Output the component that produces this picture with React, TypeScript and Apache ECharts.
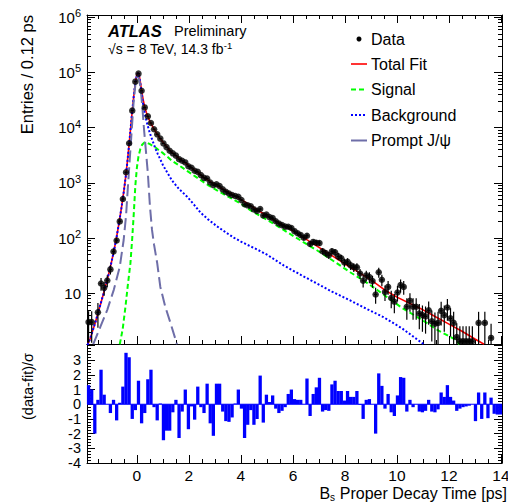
import React, { useEffect, useRef } from 'react';
import * as echarts from 'echarts';

const FONT = 'Liberation Sans, Arial, Helvetica, sans-serif';

// binning of the histogram
const BIN_START = -1.92;
const BIN_WIDTH = 0.12;
const X_MIN = -1.92;
const X_MAX = 14.04;
// top panel axis is drawn on log10(entries)
const LOG_MIN = 0.08;
const LOG_MAX = 6.04;
const RES_MIN = -4;
const RES_MAX = 4.1;

// entries per 0.12 ps bin (null = empty bin)
const dataCounts: (number | null)[] = [
  3, 3, null, 4.5, 15, 12.5, 17, 27, 57, 90,
  200, 510, 1550, 5200, 20300, 68000, 95000, 46500, 23200, 16000,
  12100, 9360, 7560, 6310, 5170, 4430, 3800, 3420, 3105, 2680,
  2505, 2340, 2000, 1870, 1650, 1577, 1378, 1230, 1195, 1015,
  910, 943, 873, 760, 690, 640, 600, 576, 557, 487,
  408, 391, 377, 330, 309, 335, 257, 265, 239, 229,
  201, 183, 171, 161, 160, 152, 133, 122, 113, 101,
  110, 78, 85, 82, 81, 57.5, 53.5, 48.8, 57.5, 55,
  46.5, 43, 36, 37, 32, 29.6, 29.6, 22.8, 16.8, 21,
  19.6, 16.6, 9.5, 24, 17.5, 10.5, 13, 8.2, 7, 10.3,
  14, 13, 5.7, 7.3, 5.7, 5.7, 4.3, 4, 3.8, 4.9,
  3.1, 2.8, 2.9, 4.8, 4.0, 5.5, 3.5, 2.9, 1.6, 1.35,
  1.35, 1.35, 1.35, 1.35, null, 2.9, null, 2.9, null, 1.55,
  null, null, null,
];

// (data-fit)/sigma per bin
const residuals: number[] = [
  1.3, 1.0, -2.0, 0.3, 2.35, 0.65, 0.0, -0.6, 0.3, -1.1,
  0.1, 1.2, 3.5, 3.2, -1.0, -0.4, 1.6, -1.3, -0.6, 1.7,
  2.35, -0.2, -1.1, 0.05, -2.45, -1.8, -1.8, -0.55, 0.3, -2.3,
  -0.5, 1.0, -1.7, -0.15, -1.05, 1.2, -0.2, -0.6, 1.4, -1.3,
  -2.15, 1.4, 1.4, -0.5, -1.15, -1.2, -0.9, 0.05, 1.0, -0.3,
  -2.3, -1.4, -0.4, -1.4, -1.0, 1.95, -1.25, 0.65, 0.15, 0.6,
  -0.3, -0.6, -0.45, -0.2, 0.7, 1.0, 0.35, 0.3, 0.3, 0.0,
  1.75, -0.8, 0.7, 1.15, 1.8, -0.5, -0.4, -0.45, 1.35, 1.6,
  0.9, 0.9, 0.25, 0.9, 0.5, 0.5, 0.9, -0.05, -1.0, 0.3,
  0.35, 0.0, -2.0, 2.1, 1.25, -0.3, 0.7, -0.55, -0.8, 0.6,
  1.85, 1.8, -0.5, 0.3, -0.2, 0.0, -0.5, -0.55, -0.45, 0.3,
  -0.5, -0.55, -0.35, 0.8, 0.5, 1.3, 0.5, 0.25, -0.45, -0.3,
  -0.2, -0.15, -0.1, 0.0, -1.15, 0.8, -1.0, 0.8, -0.95, 0.45,
  -0.65, -0.7, -0.7,
];

const totalFitX = [-1.9, -1.8, -1.7, -1.6, -1.5, -1.4, -1.3, -1.2, -1.1, -1.0, -0.9, -0.8, -0.7, -0.6, -0.5, -0.42, -0.36, -0.3, -0.24, -0.18, -0.12, -0.06, 0.0, 0.04, 0.08, 0.13, 0.18, 0.24, 0.3, 0.36, 0.42, 0.5, 0.6, 0.7, 0.8, 0.9, 1.0, 1.1, 1.2, 1.3, 1.5, 1.75, 2.0, 2.3, 2.6, 2.9, 3.2, 3.6, 4.0, 4.5, 5.0, 5.5, 6.0, 6.5, 7.0, 7.5, 8.0, 8.5, 9.0, 9.5, 10.0, 10.5, 11.0, 11.5, 12.0, 12.5, 13.0, 13.35];
const totalFitY = [1.15, 1.5, 2.1, 2.95, 4.3, 6.3, 9.3, 14, 21, 33, 54, 93, 174, 340, 720, 1420, 2600, 5000, 10000, 20000, 38000, 66000, 92000, 100000, 92000, 68000, 47000, 32000, 23500, 19000, 15800, 12900, 10500, 8700, 7400, 6300, 5500, 4790, 4220, 3720, 3090, 2510, 2040, 1585, 1230, 1000, 822, 646, 501, 355, 251, 186, 135, 95.5, 67.6, 47.9, 33.9, 24.3, 17.4, 11.7, 8.5, 6.5, 5.0, 3.7, 2.75, 2.05, 1.48, 1.19];

const signalX = [-0.66, -0.55, -0.44, -0.35, -0.25, -0.18, -0.12, -0.06, 0.0, 0.06, 0.13, 0.2, 0.29, 0.4, 0.5, 0.6, 0.7, 0.8, 0.9, 1.0, 1.16, 1.35, 1.6, 1.93, 2.2, 2.44, 2.75, 3.08, 3.4, 3.72, 4.0, 4.36, 4.62, 5.0, 5.64, 6.3, 6.92, 7.5, 8.2, 8.8, 9.48, 10.2, 11.0, 11.6, 12.24, 12.4];
const signalY = [1.19, 2.2, 5.7, 14, 35, 100, 282, 900, 1900, 3000, 4100, 4900, 5400, 5300, 5000, 4700, 4400, 4050, 3750, 3450, 3000, 2500, 2100, 1650, 1350, 1130, 900, 730, 600, 495, 420, 320, 270, 215, 140, 90, 60, 40, 24, 16, 9.5, 5.4, 3.2, 2.1, 1.45, 1.19];

const backgroundX = [-1.9, -1.8, -1.7, -1.6, -1.5, -1.4, -1.3, -1.2, -1.1, -1.0, -0.9, -0.8, -0.7, -0.6, -0.5, -0.42, -0.36, -0.3, -0.24, -0.18, -0.12, -0.06, 0.0, 0.04, 0.08, 0.13, 0.18, 0.24, 0.3, 0.36, 0.42, 0.5, 0.6, 0.7, 0.8, 0.9, 1.0, 1.16, 1.35, 1.6, 1.93, 2.2, 2.44, 2.75, 3.08, 3.4, 3.72, 4.0, 4.36, 4.62, 5.0, 5.64, 6.3, 6.92, 7.5, 8.2, 8.8, 9.48, 10.2, 11.0, 11.1];
const backgroundY = [1.15, 1.5, 2.1, 2.95, 4.3, 6.3, 9.3, 14, 21, 33, 54, 93, 174, 340, 718, 1414, 2585, 4960, 9930, 19900, 37700, 65100, 90100, 97500, 88500, 64000, 42000, 26500, 18000, 13700, 10600, 7900, 5800, 4300, 3350, 2650, 2100, 1550, 1100, 790, 560, 400, 290, 215, 163, 128, 102, 86, 71, 62, 50, 32, 21.5, 15, 10.7, 7.4, 5.3, 3.7, 2.3, 1.22, 1.1];

const promptX = [-1.68, -1.4, -1.14, -0.89, -0.66, -0.51, -0.42, -0.35, -0.28, -0.2, -0.13, -0.06, 0.0, 0.04, 0.1, 0.16, 0.22, 0.28, 0.35, 0.42, 0.5, 0.58, 0.66, 0.78, 0.9, 1.09, 1.3, 1.54];
const promptY = [1.19, 2.5, 5, 11.5, 30, 92, 250, 800, 2500, 9000, 28000, 60000, 82000, 85000, 70000, 42000, 20000, 8500, 3600, 1500, 380, 140, 75, 35, 13, 5.7, 2.8, 1.19];

const xTickLabels = [0, 2, 4, 6, 8, 10, 12, 14];
const yExponentLabels = [1, 2, 3, 4, 5, 6];
const resTickLabelsEven = [-4, -2, 0, 2];
const resTickLabelsOdd = [-3, -1, 1, 3];

const legendItems = ['Data', 'Total Fit', 'Signal', 'Background', 'Prompt J/ψ'];

const binCenter = (i: number) => BIN_START + BIN_WIDTH * (i + 0.5);

function buildOption() {
  const lg = (v: number) => Math.log10(v);
  const curve = (xs: number[], ys: number[]) => xs.map((x, i) => [x, lg(ys[i])]);

  const xMinor: number[] = [];
  for (let v = -1.5; v <= X_MAX + 1e-9; v += 0.5) {
    if (Math.abs(v / 2 - Math.round(v / 2)) > 1e-6) xMinor.push(+v.toFixed(2));
  }
  const logMinor: number[] = [];
  for (let k = 0; k <= 6; k++) {
    for (let m = 2; m <= 9; m++) {
      const t = Math.log10(m) + k;
      if (t > LOG_MIN && t < LOG_MAX) logMinor.push(t);
    }
  }
  const logMajor = [1, 2, 3, 4, 5, 6];
  const resMajor = [-4, -3, -2, -1, 0, 1, 2, 3, 4];
  const resMinor: number[] = [];
  for (let v = -4; v <= RES_MAX + 1e-9; v += 0.2) {
    const r = +v.toFixed(2);
    if (Math.abs(r - Math.round(r)) > 1e-6) resMinor.push(r);
  }

  const line = { color: '#000', width: 1 };
  const mkX = (grid: number, pos: string, ticks: number[], len: number, showLine: boolean, labels?: number[]) => ({
    type: 'value', gridIndex: grid, position: pos, min: X_MIN, max: X_MAX,
    axisLine: { show: showLine, onZero: false, lineStyle: line },
    axisTick: { show: true, inside: true, length: len, customValues: ticks, lineStyle: line },
    axisLabel: labels
      ? { show: true, customValues: labels, margin: 4, fontSize: 15.5, color: '#000', fontFamily: FONT, showMinLabel: true, showMaxLabel: true, hideOverlap: false }
      : { show: false },
    splitLine: { show: false },
  });
  const mkY = (grid: number, pos: string, min: number, max: number, ticks: number[], len: number, showLine: boolean, label?: any) => ({
    type: 'value', gridIndex: grid, position: pos, min, max,
    axisLine: { show: showLine, onZero: false, lineStyle: line },
    axisTick: ticks.length
      ? { show: true, inside: true, length: len, customValues: ticks, lineStyle: line }
      : { show: false },
    axisLabel: label ? label : { show: false },
    splitLine: { show: false },
  });

  const topYLabel = {
    show: true, customValues: yExponentLabels, margin: 6, color: '#000', fontFamily: FONT,
    showMinLabel: true, showMaxLabel: true, hideOverlap: false,
    formatter: (v: number) => (v === 1 ? '{b|10}' : `{b|10}{sup|${v}}`),
    rich: {
      b: { fontSize: 15, fontFamily: FONT, color: '#000', lineHeight: 18 },
      sup: { fontSize: 11, fontFamily: FONT, color: '#000', padding: [0, 0, 8, 0] },
    },
  };
  const resYLabel = (vals: number[]) => ({
    show: true, customValues: vals, margin: 6, color: '#000', fontFamily: FONT, fontSize: 14.5, lineHeight: 14,
    showMinLabel: true, showMaxLabel: true, hideOverlap: false,
  });

  const points: number[][] = [];
  const errs: number[][] = [];
  dataCounts.forEach((v, i) => {
    if (v == null) return;
    const c = binCenter(i);
    const e = Math.sqrt(v);
    const lo = v - e > 0 ? Math.max(lg(v - e), LOG_MIN) : LOG_MIN;
    const hi = Math.min(lg(v + e), LOG_MAX);
    points.push([c, lg(v)]);
    errs.push([c, lg(v), hi, lo]);
  });

  const legendY = [39, 64, 89.5, 115, 140.5];
  const graphic: any[] = [
    { type: 'text', x: 108, y: 31, style: { text: 'ATLAS', fontFamily: FONT, fontWeight: 'bold', fontStyle: 'italic', fontSize: 16.5, fill: '#000', verticalAlign: 'middle' } },
    { type: 'text', x: 174, y: 31, style: { text: 'Preliminary', fontFamily: FONT, fontSize: 14.5, fill: '#000', verticalAlign: 'middle' } },
    { type: 'text', x: 108, y: 49, style: {
      text: '{n|√s = 8 TeV, 14.3 fb}{sup|-1}', verticalAlign: 'middle',
      rich: { n: { fontSize: 14, fontFamily: FONT, fill: '#000', color: '#000' }, sup: { fontSize: 9.5, fontFamily: FONT, color: '#000', padding: [0, 0, 8, 0] } },
    } },
    { type: 'text', x: 27, y: 15, rotation: Math.PI / 2, style: { text: 'Entries / 0.12 ps', fontFamily: FONT, fontSize: 16.5, fill: '#000', align: 'right', verticalAlign: 'middle' } },
    { type: 'text', x: 28, y: 353, rotation: Math.PI / 2, style: { text: '(data-fit)/σ', fontFamily: FONT, fontSize: 14.5, fill: '#000', align: 'right', verticalAlign: 'middle' } },
    { type: 'text', x: 507, y: 493, style: {
      text: '{b|B}{s|s}{b| Proper Decay Time [ps]}', align: 'right', verticalAlign: 'middle',
      rich: { b: { fontSize: 16, fontFamily: FONT, color: '#000' }, s: { fontSize: 10, fontFamily: FONT, color: '#000', padding: [8, 0, 0, 0] } },
    } },
    // legend
    { type: 'circle', shape: { cx: 359, cy: legendY[0], r: 2.5 }, style: { fill: '#000' } },
    { type: 'line', shape: { x1: 351, y1: legendY[1], x2: 367, y2: legendY[1] }, style: { stroke: '#ff0000', lineWidth: 1.6 } },
    { type: 'line', shape: { x1: 351, y1: legendY[2], x2: 367, y2: legendY[2] }, style: { stroke: '#00ff00', lineWidth: 2, lineDash: [5, 3] } },
    { type: 'line', shape: { x1: 351, y1: legendY[3], x2: 367, y2: legendY[3] }, style: { stroke: '#0000ff', lineWidth: 2, lineDash: [2, 2] } },
    { type: 'line', shape: { x1: 351, y1: legendY[4], x2: 367, y2: legendY[4] }, style: { stroke: '#6e6ea8', lineWidth: 2 } },
  ];
  legendItems.forEach((t, i) => {
    graphic.push({ type: 'text', x: 371, y: legendY[i], style: { text: t, fontFamily: FONT, fontSize: 16, fill: '#000', verticalAlign: 'middle' } });
  });

  return {
    animation: false,
    backgroundColor: '#fff',
    textStyle: { fontFamily: FONT },
    grid: [
      { left: 87, top: 15, width: 415, height: 329, containLabel: false, outerBoundsMode: 'none' },
      { left: 87, top: 344, width: 415, height: 119, containLabel: false, outerBoundsMode: 'none' },
    ],
    xAxis: [
      mkX(0, 'bottom', xTickLabels, 8, true),
      mkX(0, 'bottom', xMinor, 4, false),
      mkX(0, 'top', xTickLabels, 8, true),
      mkX(0, 'top', xMinor, 4, false),
      mkX(1, 'bottom', xTickLabels, 8, true, xTickLabels),
      mkX(1, 'bottom', xMinor, 4, false),
      mkX(1, 'top', [], 0, true),
    ],
    yAxis: [
      mkY(0, 'left', LOG_MIN, LOG_MAX, logMajor, 8, true, topYLabel),
      mkY(0, 'left', LOG_MIN, LOG_MAX, logMinor, 4, false),
      mkY(0, 'right', LOG_MIN, LOG_MAX, logMajor, 8, true),
      mkY(0, 'right', LOG_MIN, LOG_MAX, logMinor, 4, false),
      mkY(1, 'left', RES_MIN, RES_MAX, resMajor, 8, true, resYLabel(resTickLabelsEven)),
      mkY(1, 'left', RES_MIN, RES_MAX, resMinor, 4, false),
      mkY(1, 'right', RES_MIN, RES_MAX, resMajor, 8, true),
      mkY(1, 'right', RES_MIN, RES_MAX, resMinor, 4, false),
      mkY(1, 'left', RES_MIN, RES_MAX, [], 0, false, resYLabel(resTickLabelsOdd)),
    ],
    graphic,
    series: [
      { type: 'line', name: 'Total Fit', xAxisIndex: 0, yAxisIndex: 0, data: curve(totalFitX, totalFitY), symbol: 'none', showSymbol: false, lineStyle: { color: '#ff0000', width: 1.6 }, z: 3 },
      { type: 'line', name: 'Signal', xAxisIndex: 0, yAxisIndex: 0, data: curve(signalX, signalY), symbol: 'none', showSymbol: false, lineStyle: { color: '#00ff00', width: 2, type: [5, 3] }, z: 3 },
      { type: 'line', name: 'Background', xAxisIndex: 0, yAxisIndex: 0, data: curve(backgroundX, backgroundY), symbol: 'none', showSymbol: false, lineStyle: { color: '#0000ff', width: 2, type: [2, 2] }, z: 3 },
      { type: 'line', name: 'Prompt J/ψ', xAxisIndex: 0, yAxisIndex: 0, data: curve(promptX, promptY), symbol: 'none', showSymbol: false, lineStyle: { color: '#6e6ea8', width: 2, type: [12, 5] }, z: 3 },
      {
        type: 'custom', name: 'errors', xAxisIndex: 0, yAxisIndex: 0, data: errs, encode: { x: 0, y: 1 }, z: 4,
        renderItem: (_p: any, api: any) => {
          const x = api.value(0);
          const lv = api.value(1);
          const p1 = api.coord([x, api.value(2)]);
          const p2 = api.coord([x, api.value(3)]);
          const h1 = api.coord([x - BIN_WIDTH / 2, lv]);
          const h2 = api.coord([x + BIN_WIDTH / 2, lv]);
          return {
            type: 'group',
            children: [
              { type: 'line', shape: { x1: p1[0], y1: p1[1], x2: p2[0], y2: p2[1] }, style: { stroke: '#000', lineWidth: 1.2 } },
              { type: 'line', shape: { x1: h1[0], y1: h1[1], x2: h2[0], y2: h2[1] }, style: { stroke: '#000', lineWidth: 1.2 } },
            ],
          };
        },
      },
      { type: 'scatter', name: 'Data', xAxisIndex: 0, yAxisIndex: 0, data: points, symbol: 'circle', symbolSize: 6.5, itemStyle: { color: '#000' }, z: 5 },
      { type: 'line', name: 'zero', xAxisIndex: 4, yAxisIndex: 4, data: [[X_MIN, 0], [X_MAX, 0]], symbol: 'none', lineStyle: { color: '#0000ff', width: 1 }, z: 2 },
      { type: 'bar', name: 'Residuals', xAxisIndex: 4, yAxisIndex: 4, data: residuals.map((r, i) => [binCenter(i), r]), barWidth: 3.3, itemStyle: { color: '#0000ff' }, z: 3 },
    ],
  };
}

export default function App() {
  const ref = useRef<HTMLDivElement>(null);
  useEffect(() => {
    document.body.style.margin = '0';
    if (!ref.current) return;
    const chart = echarts.init(ref.current, undefined, { renderer: 'svg' });
    chart.setOption(buildOption() as any);
    return () => chart.dispose();
  }, []);
  return <div ref={ref} style={{ width: 508, height: 502 }} />;
}
